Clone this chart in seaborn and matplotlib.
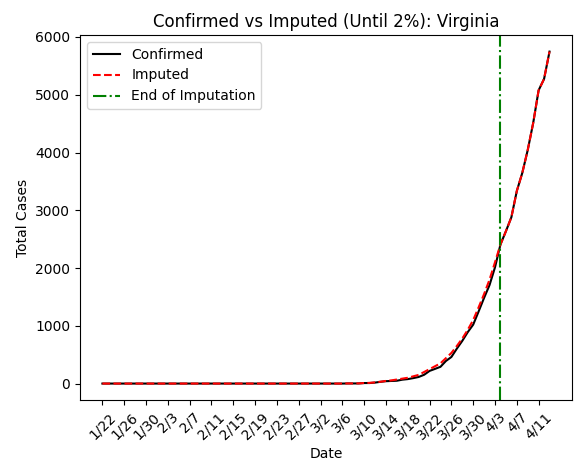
import pandas as pd
import numpy as np
import matplotlib.pyplot as plt
import seaborn as sns

dates = pd.date_range('2020-01-22', '2020-04-13')
labels = [f'{d.month}/{d.day}' for d in dates]

# Confirmed cases: zero until early March, then daily values
confirmed_tail = [2, 2, 2, 9, 9, 17, 30, 41, 45, 49, 67, 77, 94, 114, 152, 219, 254, 290,
                  391, 460, 604, 739, 890, 1020, 1249, 1484, 1706, 2012, 2407, 2637, 2878,
                  3333, 3645, 4042, 4509, 5077, 5274, 5747]
confirmed = [0] * (len(dates) - len(confirmed_tail)) + confirmed_tail

imputed_tail = [2, 2, 3, 9, 12, 20, 32, 45, 55, 70, 85, 100, 125, 150, 200, 250, 300, 350,
                440, 530, 650, 780, 930, 1100, 1320, 1550, 1800, 2100, 2407, 2637, 2878,
                3333, 3645, 4042, 4509, 5077, 5274, 5747]
imputed = [0] * (len(dates) - len(imputed_tail)) + imputed_tail

end_imputation = '4/4'

df = pd.DataFrame({'Date': labels, 'Confirmed': confirmed, 'Imputed': imputed})
x = np.arange(len(df))

fig, ax = plt.subplots(figsize=(5.8, 4.73), dpi=100)
sns.lineplot(x=x, y=df['Confirmed'], color='black', label='Confirmed', ax=ax)
sns.lineplot(x=x, y=df['Imputed'], color='red', linestyle='--', label='Imputed', ax=ax)
ax.axvline(labels.index(end_imputation), color='green', linestyle='-.', label='End of Imputation')

ax.set_xticks(x[::4])
ax.set_xticklabels(labels[::4], rotation=45)
ax.set_xlabel('Date')
ax.set_ylabel('Total Cases')
ax.set_title('Confirmed vs Imputed (Until 2%): Virginia')
ax.legend(loc='upper left')
fig.subplots_adjust(left=0.138, right=0.986, top=0.926, bottom=0.154)
fig.savefig('out.png')
